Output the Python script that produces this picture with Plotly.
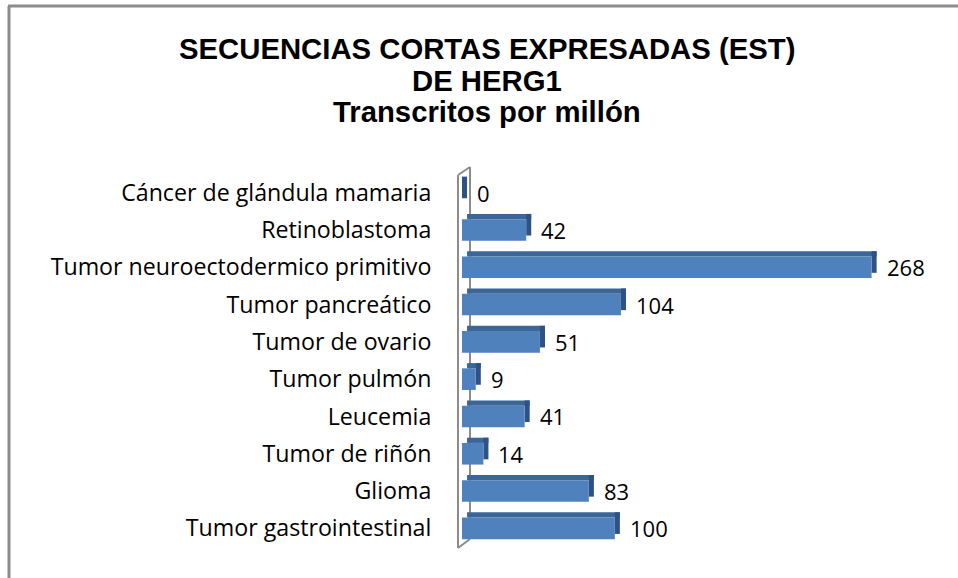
import plotly.graph_objects as go

categories = [
    "Cáncer de glándula mamaria",
    "Retinoblastoma",
    "Tumor neuroectodermico primitivo",
    "Tumor pancreático",
    "Tumor de ovario",
    "Tumor pulmón",
    "Leucemia",
    "Tumor de riñón",
    "Glioma",
    "Tumor gastrointestinal",
]
values = [0, 42, 268, 104, 51, 9, 41, 14, 83, 100]
title_lines = ["SECUENCIAS CORTAS EXPRESADAS (EST)", "DE HERG1", "Transcritos por millón"]

W, H = 958, 578
L, R, T, B = 462, 948, 174, 547
X_MAX = 318

def px(x):
    return (x - L) / (R - L)

def py(y):
    return (B - y) / (B - T)

bw = 0.58      # front face thickness (category units)
sd = 0.14      # depth shift in category units
dx = 3.3       # depth in value units

front = "#4F81BD"
top_c = "#3D6698"
side_c = "#2E5283"

fig = go.Figure()
# top face
fig.add_trace(go.Bar(
    y=categories, x=values, base=[dx] * len(values), orientation="h",
    width=sd, offset=bw / 2, marker=dict(color=top_c, line=dict(width=0)),
    hoverinfo="skip", showlegend=False))
# side face
fig.add_trace(go.Bar(
    y=categories, x=[dx] * len(values), base=values, orientation="h",
    width=bw, offset=-bw / 2 + sd, marker=dict(color=side_c, line=dict(width=0)),
    hoverinfo="skip", showlegend=False))
# front face
fig.add_trace(go.Bar(
    y=categories, x=values, orientation="h",
    width=bw, offset=-bw / 2, marker=dict(color=front, line=dict(width=0)),
    showlegend=False))

annotations = []
for c, v in zip(categories, values):
    annotations.append(dict(
        x=v, y=c, xref="x", yref="y", text=str(v), showarrow=False,
        xanchor="left", yanchor="middle", xshift=13,
        font=dict(family="Open Sans", size=22, color="#000000")))

for i, (line, yy) in enumerate(zip(title_lines, [48, 80, 111])):
    annotations.append(dict(
        x=px(487), y=py(yy), xref="paper", yref="paper", text="<b>%s</b>" % line,
        showarrow=False, xanchor="center", yanchor="middle",
        font=dict(family="Liberation Sans", size=29.3, color="#000000")))

gray = "#8C8C8C"
shapes = [
    # chart frame (left & top)
    dict(type="line", xref="paper", yref="paper", x0=px(9), x1=px(9), y0=py(6), y1=py(578),
         line=dict(color=gray, width=3)),
    dict(type="line", xref="paper", yref="paper", x0=px(8), x1=px(958), y0=py(6), y1=py(6),
         line=dict(color=gray, width=3)),
    # 3D wall
    dict(type="line", xref="paper", yref="paper", x0=px(458), x1=px(458), y0=py(175), y1=py(548),
         line=dict(color=gray, width=2), layer="below"),
    dict(type="line", xref="paper", yref="paper", x0=px(470), x1=px(470), y0=py(167), y1=py(539),
         line=dict(color=gray, width=2), layer="below"),
    dict(type="line", xref="paper", yref="paper", x0=px(458), x1=px(470), y0=py(175), y1=py(167),
         line=dict(color=gray, width=2), layer="below"),
    dict(type="line", xref="paper", yref="paper", x0=px(458), x1=px(470), y0=py(548), y1=py(539),
         line=dict(color=gray, width=2), layer="below"),
]

fig.update_layout(
    width=W, height=H,
    margin=dict(l=L, r=W - R, t=T, b=H - B, pad=0),
    paper_bgcolor="white", plot_bgcolor="white",
    barmode="overlay",
    xaxis=dict(range=[0, X_MAX], visible=False, fixedrange=True),
    yaxis=dict(categoryorder="array", categoryarray=categories[::-1],
               showgrid=False, zeroline=False, showline=False,
               ticks="outside", ticklen=25, tickcolor="rgba(0,0,0,0)",
               tickfont=dict(family="Open Sans", size=23.2, color="#000000"),
               range=[-0.5, len(categories) - 0.5], fixedrange=True),
    annotations=annotations, shapes=shapes,
    showlegend=False,
)

fig.write_html("out.html", config={"displayModeBar": False},
               post_script="document.body.style.margin='0';document.body.style.overflow='hidden';")
